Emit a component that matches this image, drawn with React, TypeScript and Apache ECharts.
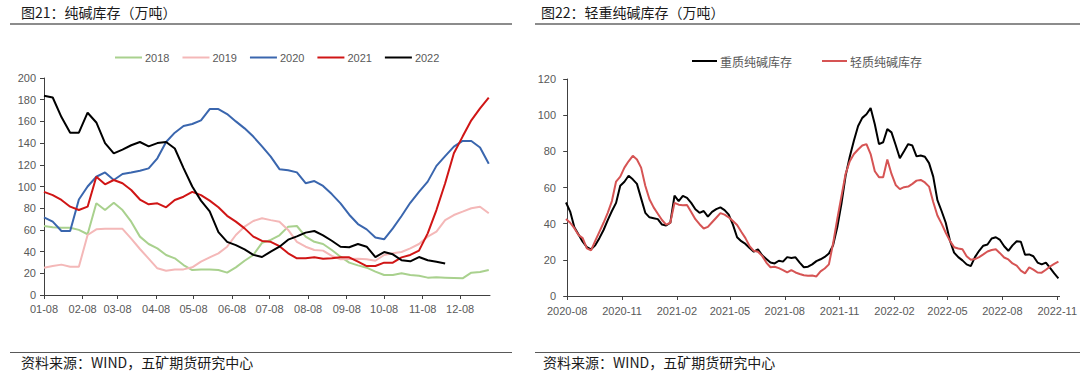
import React, { useEffect, useRef } from "react";
import * as echarts from "echarts";

// ---------- Left chart: 纯碱库存（万吨） weekly, by year ----------
const leftTickLabels = ["01-08", "02-08", "03-08", "04-08", "05-08", "06-08", "07-08", "08-08", "09-08", "10-08", "11-08", "12-08"];
const yearNames = ["2018", "2019", "2020", "2021", "2022"];

const s2018 = [63.6, 62.4, 62, 62, 60, 56, 84.5, 78.3, 85, 78.3, 67.6, 53.8, 47, 43, 36.9, 33.8, 27.6, 23, 23.6, 23.6, 23, 20.6, 25.5, 31.6, 36.9, 48, 50.7, 55,
  63, 63.6, 53.8, 49, 47, 41.5, 35.3, 29.8, 27.3, 25.2, 21.5, 18.4, 18.4, 20, 18.4, 17.8, 16, 16.3, 16, 15.7, 15.4, 20.6, 21.2, 23];
const s2019 = [25.2, 26.7, 28, 26, 26, 55.3, 60.5, 61, 61, 61, 52, 42.4, 33.5, 24.6, 22.4, 23.6, 23.6, 25.5, 30.7, 34.7, 38.4, 44.5, 55.3, 63, 68.2, 70.7, 69, 67.6,
  60, 49, 44.5, 41.5, 40.9, 36, 32.9, 33.2, 33.5, 32.9, 31.6, 36.9, 38.4, 39.6, 43, 47, 53.8, 58.4, 69, 73.7, 76.8, 80, 81.4, 75.3];
const s2020 = [71.6, 67.6, 59, 59, 88, 100, 109, 113, 106, 111.5, 113, 114.6, 116.7, 126, 141, 149.6, 155.8, 157.6, 161, 171.4, 171.4, 166.8, 160, 153.6, 146, 137, 127.5, 116,
  115, 113, 103, 105, 100.5, 93, 84.5, 74, 65.4, 60.5, 53, 51.3, 61.4, 72.8, 85, 95, 104.5, 119, 128, 136.7, 142, 142, 136, 121];
const s2021 = [95, 92, 87.6, 81.4, 78.3, 81.4, 109, 102, 106, 103, 96.8, 88, 83.6, 84.5, 80.8, 87.6, 90.6, 95, 92, 87, 80.8, 73, 67.6, 61.4, 53.8, 49.8, 49, 45,
  38.4, 33.8, 33.8, 34.7, 33.5, 33.8, 34.7, 34.7, 30.7, 26.7, 26.7, 29.8, 29.8, 34.7, 36.9, 40.9, 56.8, 78.3, 103, 130.6, 146, 161, 172, 181.9];
const s2022 = [183.7, 182, 164, 149.6, 149.6, 168, 159, 140, 130.5, 134, 138, 141, 137, 140, 141, 135, 117, 100, 87, 77,
  58, 49, 46, 42, 37, 35, 40, 44.5, 51, 54, 57.5, 59, 55, 50, 44.5, 44, 47, 44.5, 35, 39.6, 37.5, 32, 31, 35, 32, 30.7, 29];
const yearColors = ["#A9D18E", "#F4B8B8", "#3A66AE", "#D01515", "#000000"];

// ---------- Right chart: 轻重纯碱库存（万吨） weekly ----------
const rightTickLabels = ["2020-08", "2020-11", "2021-02", "2021-05", "2021-08", "2021-11", "2022-02", "2022-05", "2022-08", "2022-11"];
const rightStartDate = "2020-07-30";
const rightNames = ["重质纯碱库存", "轻质纯碱库存"];
const heavyStock = [51.7, 46.7, 38, 34, 30, 27, 25.8, 28, 32, 36.5, 42, 47, 51.5, 61, 63.2, 66.5, 64.5, 62, 54, 46,
  43.5, 43, 42.5, 39.5, 39, 40.5, 55.5, 52.5, 55.4, 54.3, 51.5, 48, 46, 47, 43.9, 46.5, 48, 49, 47.5, 45,
  39.5, 32.5, 30.3, 28.8, 26.5, 24.5, 25.8, 22.5, 20.5, 18.5, 18, 19.5, 19, 21.5, 21, 21.4, 18.5, 15.9, 16.2, 17.5,
  19.3, 20.3, 21.6, 23.5, 28, 38, 51, 66.5, 77, 86, 94, 98.5, 100.5, 103.9, 95, 84, 85, 92.3, 90.5, 83.5,
  76.2, 80, 84, 83.2, 77.2, 77.7, 77, 73.5, 66, 53, 47, 40.5, 30.7, 24, 21.5, 19.7, 17.5, 16.5, 21.5, 25,
  27.8, 28.5, 31.8, 32.5, 31, 27.5, 25, 28, 30.3, 30, 22.8, 23, 22, 18.5, 17.5, 18.5, 15.5, 12.5, 9.8];
const lightStock = [42.6, 40.5, 37.5, 33.7, 32, 26.3, 25.2, 30.5, 35.5, 40.5, 46, 52.5, 63.3, 66, 71, 74.5, 77.5, 75.5, 71, 61,
  53.5, 49, 45.5, 42, 39.5, 40.5, 51.5, 50.5, 50.2, 50.3, 46.5, 42.5, 39.7, 37.3, 38.2, 40.8, 43.3, 45.8, 45, 43.5,
  41.5, 39.3, 35.5, 32, 27.6, 25, 24.5, 22.2, 18.5, 15.9, 16.2, 15.4, 14.3, 13, 14.3, 13, 12.2, 11.5, 11.2, 11.3,
  10.8, 13.6, 15.2, 17.5, 29, 42.5, 55, 67.5, 74.5, 78.5, 81, 83.2, 84, 78.5, 69, 65.7, 65.7, 75.5, 67.5, 61.4,
  59.1, 60.2, 60.5, 62, 63.8, 64.2, 62.8, 60.5, 52, 44.5, 40, 35, 30.5, 27, 26.3, 25.8, 22, 20, 20.4, 21.5,
  23, 24.6, 25.4, 25.8, 23.7, 21.3, 20.2, 18, 16.8, 14, 12.5, 15.8, 14.6, 13, 12.9, 14.5, 16.3, 17.8, 19];
const rightColors = ["#000000", "#D65454"];

const DAY = 86400000;
const FONT = '"Liberation Sans", "Noto Sans CJK SC", sans-serif';
const CJK = '"Noto Sans CJK SC", sans-serif';
const LABEL = "#595959";
const AXIS = "#404040";

function leftDay(mmdd: string): number {
  const [m, d] = mmdd.split("-").map(Number);
  return (Date.UTC(2021, m - 1, d) - Date.UTC(2021, 0, 1)) / DAY;
}
const rightOrigin = Date.UTC(2020, 7, 1);
function rightDay(ym: string): number {
  const [y, m] = ym.split("-").map(Number);
  return (Date.UTC(y, m - 1, 1) - rightOrigin) / DAY;
}

export default function App() {
  const ref = useRef<HTMLDivElement>(null);
  useEffect(() => {
    if (!ref.current) return;
    const chart = echarts.init(ref.current, null, { renderer: "svg" });

    const leftTicks = leftTickLabels.map(leftDay);
    const leftWeekDay = (i: number) => leftTicks[0] + 7 * i;
    const yearSeries = [s2018, s2019, s2020, s2021, s2022];

    const startParts = rightStartDate.split("-").map(Number);
    const startDay = (Date.UTC(startParts[0], startParts[1] - 1, startParts[2]) - rightOrigin) / DAY;
    const rightWeekDay = (k: number) => startDay + 7 * k;
    const rightTicks = rightTickLabels.map(rightDay);

    const series: any[] = [];
    yearSeries.forEach((arr, si) => {
      series.push({
        name: yearNames[si],
        type: "line",
        xAxisIndex: 0,
        yAxisIndex: 0,
        symbol: "none",
        lineStyle: { width: 2, color: yearColors[si] },
        itemStyle: { color: yearColors[si] },
        data: arr.map((v, i) => [leftWeekDay(i), v]),
      });
    });
    [heavyStock, lightStock].forEach((arr, si) => {
      series.push({
        name: rightNames[si],
        type: "line",
        xAxisIndex: 1,
        yAxisIndex: 1,
        symbol: "none",
        lineStyle: { width: 2, color: rightColors[si] },
        itemStyle: { color: rightColors[si] },
        data: arr.map((v, k) => [rightWeekDay(k), v]),
      });
    });

    const yAxisCommon = {
      type: "value",
      axisLine: { show: true, lineStyle: { color: AXIS, width: 1 } },
      axisTick: { show: true, length: 4, lineStyle: { color: AXIS } },
      splitLine: { show: false },
    };

    chart.setOption({
      animation: false,
      textStyle: { fontFamily: FONT },
      grid: [
        { left: 44, top: 78, width: 446, height: 217 },
        { left: 566, top: 79, width: 503, height: 217 },
      ],
      xAxis: [
        {
          type: "value",
          gridIndex: 0,
          min: 7,
          max: 365,
          axisLine: { show: true, onZero: false, lineStyle: { color: AXIS } },
          axisTick: { show: true, length: 4, customValues: leftTicks, lineStyle: { color: AXIS } },
          axisLabel: {
            customValues: leftTicks,
            color: LABEL,
            fontSize: 11,
            margin: 8,
            formatter: (v: number) => {
              const idx = leftTicks.findIndex((t) => Math.abs(t - v) < 0.5);
              return idx >= 0 ? leftTickLabels[idx] : "";
            },
          },
          splitLine: { show: false },
        },
        {
          type: "value",
          gridIndex: 1,
          min: -2,
          max: 826,
          axisLine: { show: true, onZero: false, lineStyle: { color: AXIS } },
          axisTick: { show: true, length: 4, customValues: rightTicks, lineStyle: { color: AXIS } },
          axisLabel: {
            customValues: rightTicks,
            color: LABEL,
            fontSize: 11,
            margin: 9,
            formatter: (v: number) => {
              const idx = rightTicks.findIndex((t) => Math.abs(t - v) < 0.5);
              return idx >= 0 ? rightTickLabels[idx] : "";
            },
          },
          splitLine: { show: false },
        },
      ],
      yAxis: [
        {
          ...yAxisCommon,
          gridIndex: 0,
          min: 0,
          max: 200,
          interval: 20,
          axisLabel: { color: LABEL, fontSize: 11, margin: 8 },
        },
        {
          ...yAxisCommon,
          gridIndex: 1,
          min: 0,
          max: 120,
          interval: 20,
          axisLabel: { color: LABEL, fontSize: 11, margin: 10 },
        },
      ],
      legend: [
        {
          data: yearNames,
          icon: "rect",
          left: 115,
          top: 52,
          padding: 0,
          itemWidth: 27,
          itemHeight: 2,
          itemGap: 13,
          textStyle: { color: LABEL, fontSize: 11, padding: [0, 0, 0, -2] },
        },
        {
          data: rightNames,
          icon: "rect",
          left: 692,
          top: 55,
          padding: 0,
          itemWidth: 25,
          itemHeight: 2,
          itemGap: 30,
          textStyle: { color: LABEL, fontSize: 12, fontFamily: CJK, padding: [0, 0, 0, -2] },
        },
      ],
      graphic: [
        { type: "text", left: 21, top: 5, style: { text: "图21：纯碱库存（万吨）", fontSize: 14, fill: "#1a1a1a", fontFamily: CJK } },
        { type: "text", left: 541, top: 5, style: { text: "图22：轻重纯碱库存（万吨）", fontSize: 14, fill: "#1a1a1a", fontFamily: CJK } },
        { type: "line", shape: { x1: 10, y1: 24, x2: 512, y2: 24 }, style: { stroke: "#8c8c8c", lineWidth: 2 } },
        { type: "line", shape: { x1: 535, y1: 24, x2: 1080, y2: 24 }, style: { stroke: "#8c8c8c", lineWidth: 2 } },
        { type: "line", shape: { x1: 10, y1: 352.5, x2: 512, y2: 352.5 }, style: { stroke: "#595959", lineWidth: 1 } },
        { type: "line", shape: { x1: 535, y1: 352.5, x2: 1080, y2: 352.5 }, style: { stroke: "#595959", lineWidth: 1 } },
        { type: "text", left: 21, top: 355, style: { text: "资料来源：WIND，五矿期货研究中心", fontSize: 14, fill: "#1a1a1a", fontFamily: CJK } },
        { type: "text", left: 543, top: 355, style: { text: "资料来源：WIND，五矿期货研究中心", fontSize: 14, fill: "#1a1a1a", fontFamily: CJK } },
      ],
      series,
    });
    return () => chart.dispose();
  }, []);
  return <div ref={ref} style={{ position: "absolute", left: 0, top: 0, width: 1080, height: 377, background: "#fff" }} />;
}
